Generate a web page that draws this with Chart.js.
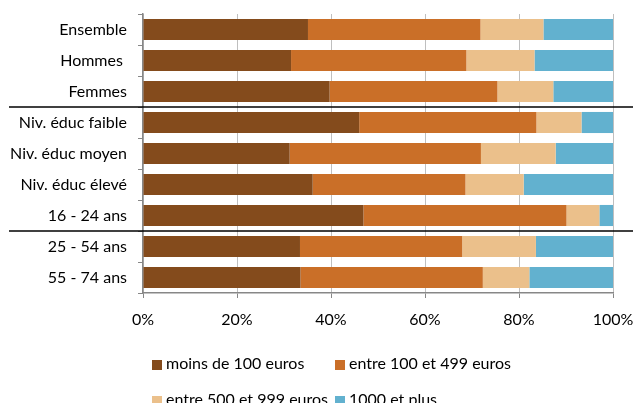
<!DOCTYPE html>
<html>
<head>
<meta charset="utf-8">
<script src="https://cdn.jsdelivr.net/npm/chart.js@4"></script>
<style>
  html, body { margin: 0; padding: 0; background: #fff; }
  #wrap { position: relative; width: 633px; height: 403px; overflow: hidden; }
  #legend { position: absolute; left: 0; top: 0; font-family: Lato, sans-serif; font-size: 16px; color: #000; }
  .item { position: absolute; white-space: nowrap; line-height: 18px; }
  .box { display: inline-block; width: 10px; height: 10px; margin-right: 4px; vertical-align: -1px; }
</style>
</head>
<body>
<div id="wrap">
  <canvas id="chart" width="633" height="403"></canvas>
  <div id="legend"></div>
</div>
<script>
// Catégories (de haut en bas)
const categories = [
  "Ensemble", "Hommes ", "Femmes",
  "Niv. éduc faible", "Niv. éduc moyen", "Niv. éduc élevé",
  "16 - 24 ans", "25 - 54 ans", "55 - 74 ans"
];

// Séries en %
const moins100   = [35.1, 31.5, 39.7, 46.0, 31.2, 36.1, 46.9, 33.4, 33.5];
const entre100   = [36.7, 37.3, 35.7, 37.7, 40.7, 32.5, 43.2, 34.5, 38.8];
const entre500   = [13.4, 14.5, 11.9,  9.6, 15.9, 12.4,  7.0, 15.7,  9.9];
const plus1000   = [14.8, 16.7, 12.7,  6.7, 12.2, 19.0,  2.9, 16.4, 17.8];

const seriesNames = ["moins de 100 euros", "entre 100 et 499 euros", "entre 500 et 999 euros", "1000 et plus"];
const seriesColors = ["#844B1C", "#CA6F28", "#EBC08B", "#62B1CF"];

const xTicks = [0, 20, 40, 60, 80, 100];

// index des catégories qui ouvrent un nouveau groupe (trait noir au-dessus)
const groupBreaks = [3, 7];

const FONT = "Lato, sans-serif";

const separators = {
  id: "separators",
  afterDraw(chart) {
    const y = chart.scales.y;
    const ctx = chart.ctx;
    ctx.save();
    ctx.strokeStyle = "#000";
    ctx.lineWidth = 1.5;
    groupBreaks.forEach(i => {
      const py = (y.getPixelForValue(i - 1) + y.getPixelForValue(i)) / 2;
      ctx.beginPath();
      ctx.moveTo(9, py);
      ctx.lineTo(chart.width, py);
      ctx.stroke();
    });
    ctx.restore();
  }
};

const data = [moins100, entre100, entre500, plus1000];

const chart = new Chart(document.getElementById("chart"), {
  type: "bar",
  data: {
    labels: categories,
    datasets: data.map((d, i) => ({
      label: seriesNames[i],
      data: d,
      backgroundColor: seriesColors[i],
      borderWidth: 0,
      categoryPercentage: 1,
      barPercentage: 0.68
    }))
  },
  options: {
    indexAxis: "y",
    responsive: false,
    animation: false,
    layout: { padding: { top: 14, right: 20, left: 0, bottom: 0 } },
    plugins: { legend: { display: false }, tooltip: { enabled: false } },
    scales: {
      x: {
        stacked: true,
        min: 0,
        max: 100,
        afterBuildTicks: s => { s.ticks = xTicks.map(v => ({ value: v })); },
        afterFit: s => { s.height = 110; s.paddingLeft = 0; s.paddingRight = 0; },
        ticks: {
          callback: v => v + "%",
          color: "#000",
          font: { family: FONT, size: 16 },
          padding: 12,
          maxRotation: 0
        },
        grid: { color: "#BFBFBF", tickLength: 5, tickColor: "#878787" },
        border: { color: "#878787", width: 1.5 }
      },
      y: {
        stacked: true,
        afterFit: s => { s.width = 143; s.paddingTop = 0; s.paddingBottom = 0; },
        ticks: {
          color: "#000",
          font: { family: FONT, size: 16 },
          padding: 11
        },
        grid: { drawOnChartArea: false, offset: true, tickLength: 5, color: "#878787" },
        border: { color: "#878787", width: 1.5 }
      }
    }
  },
  plugins: [separators]
});

// Légende en deux colonnes
const legend = document.getElementById("legend");
chart.data.datasets.forEach((ds, i) => {
  const el = document.createElement("div");
  el.className = "item";
  el.style.left = (152 + (i % 2) * 183) + "px";
  el.style.top = (354 + Math.floor(i / 2) * 36) + "px";
  el.innerHTML = '<span class="box" style="background:' + ds.backgroundColor + '"></span>' + ds.label;
  legend.appendChild(el);
});
</script>
</body>
</html>
